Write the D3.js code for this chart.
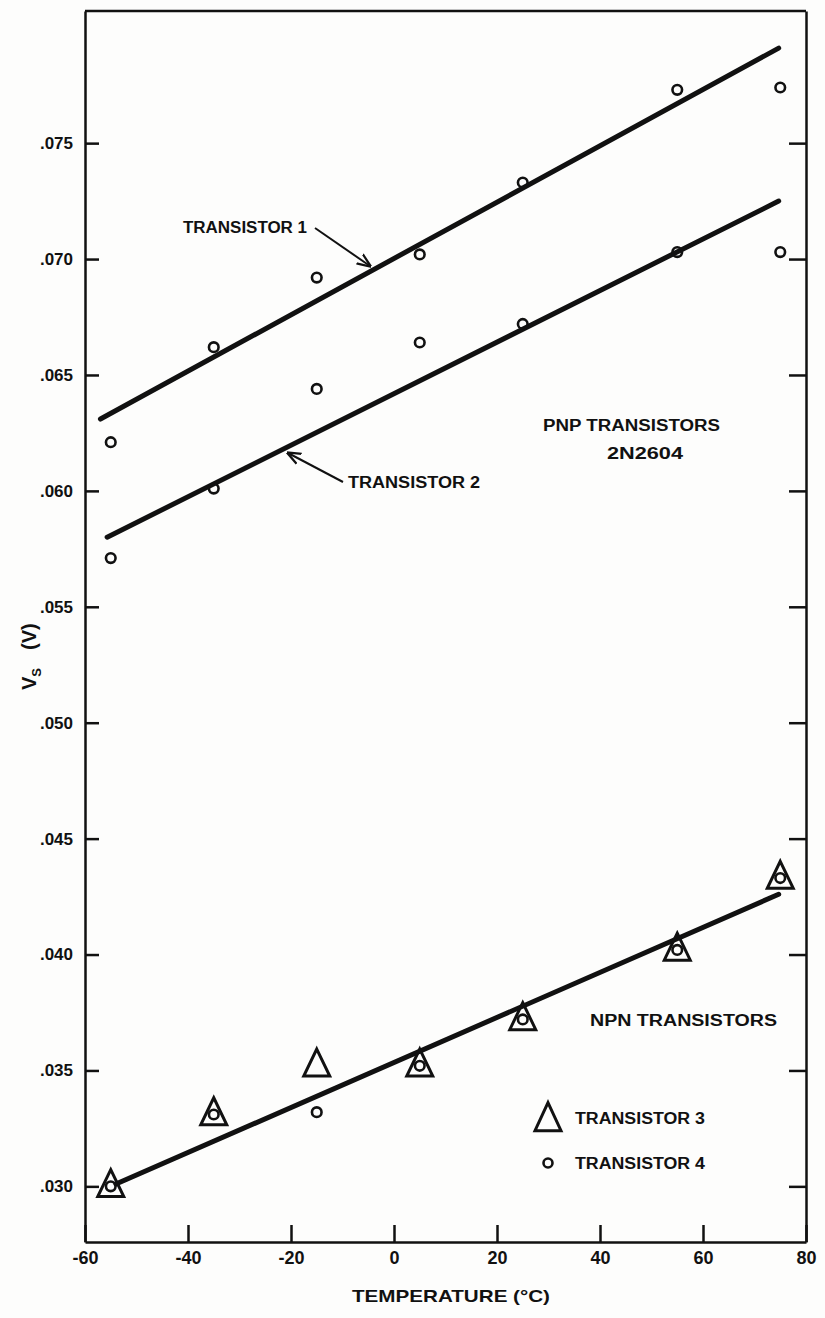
<!DOCTYPE html>
<html>
<head>
<meta charset="utf-8">
<script src="https://cdn.jsdelivr.net/npm/d3@7/dist/d3.min.js"></script>
<style>
	html, body { margin: 0; padding: 0; background: #fdfdfc; }
	svg { display: block; }
	text { font-family: "Liberation Sans", Arial, sans-serif; font-weight: bold; fill: #111; }
</style>
</head>
<body>
<div id="chart"></div>
<script>
	// temperatures where the transistors were measured (deg C)
	var temps = [-55, -35, -15, 5, 25, 55, 75];

	// PNP transistors (2N2604), Vs in volts
	var transistor1 = [0.0621, 0.0662, 0.0692, 0.0702, 0.0733, 0.0773, 0.0774];
	var transistor2 = [0.0571, 0.0601, 0.0644, 0.0664, 0.0672, 0.0703, 0.0703];

	// NPN transistors
	var transistor3 = [0.0300, 0.0331, 0.0352, 0.0352, 0.0372, 0.0402, 0.0433];
	var transistor4 = [0.0300, 0.0331, 0.0332, 0.0352, 0.0372, 0.0402, 0.0433];

	// fitted straight lines, [start, end]
	var fit1T = [-57, 74.7], fit1V = [0.0631, 0.0791];
	var fit2T = [-55.7, 74.7], fit2V = [0.0580, 0.0725];
	var fit3T = [-54, 74.7], fit3V = [0.0301, 0.0426];

	var xTicks = [-60, -40, -20, 0, 20, 40, 60, 80];
	var yTicks = [0.030, 0.035, 0.040, 0.045, 0.050, 0.055, 0.060, 0.065, 0.070, 0.075];

	var width = 825, height = 1318;

	var svg = d3.select("#chart")
		.append("svg")
		.attr("width", width)
		.attr("height", height);

	var x = d3.scaleLinear().domain([-60, 80]).range([85, 806]);
	var y = d3.scaleLinear().domain([0.0276, 0.0807]).range([1242, 11]);

	var ink = "#111";

	// frame top
	svg.append("line")
		.attr("x1", x(-60)).attr("x2", x(80))
		.attr("y1", y(0.0807)).attr("y2", y(0.0807))
		.attr("stroke", ink).attr("stroke-width", 2.5);

	// left axis
	var yAxis = svg.append("g")
		.attr("transform", "translate(" + x(-60) + ",0)")
		.call(d3.axisLeft(y)
			.tickValues(yTicks)
			.tickSizeInner(-14)
			.tickSizeOuter(0)
			.tickPadding(12)
			.tickFormat(function(d){ return d3.format(".3f")(d).replace(/^0/, ""); }));

	// right axis, ticks pointing inward, no labels
	var rAxis = svg.append("g")
		.attr("transform", "translate(" + x(80) + ",0)")
		.call(d3.axisLeft(y)
			.tickValues(yTicks)
			.tickSizeInner(17)
			.tickSizeOuter(0)
			.tickFormat(""));

	// bottom axis
	var xAxis = svg.append("g")
		.attr("transform", "translate(0," + y(0.0276) + ")")
		.call(d3.axisBottom(x)
			.tickValues(xTicks)
			.tickSizeInner(-17)
			.tickSizeOuter(0)
			.tickPadding(9)
			.tickFormat(function(d){ return String(d); }));

	[yAxis, rAxis, xAxis].forEach(function(g){
		g.select(".domain").attr("stroke", ink).attr("stroke-width", 2.5);
		g.selectAll(".tick line").attr("stroke", ink).attr("stroke-width", 2.5);
		g.selectAll(".tick text")
			.attr("fill", ink)
			.style("font-size", "17px")
			.style("font-family", "'Liberation Sans', Arial, sans-serif")
			.style("font-weight", "bold");
	});
	xAxis.selectAll(".tick text").style("font-size", "18px");

	// fitted lines
	var fits = [[fit1T, fit1V], [fit2T, fit2V], [fit3T, fit3V]];
	svg.selectAll("line.fit")
		.data(fits)
		.enter()
			.append("line")
			.attr("class", "fit")
			.attr("x1", function(d){ return x(d[0][0]); })
			.attr("y1", function(d){ return y(d[1][0]); })
			.attr("x2", function(d){ return x(d[0][1]); })
			.attr("y2", function(d){ return y(d[1][1]); })
			.attr("stroke", ink)
			.attr("stroke-width", 5)
			.attr("stroke-linecap", "round");

	// triangles (transistor 3)
	function tri(cx, cy, w, h) {
		var p = d3.path();
		p.moveTo(cx, cy - h * 0.62);
		p.lineTo(cx + w / 2, cy + h * 0.38);
		p.lineTo(cx - w / 2, cy + h * 0.38);
		p.closePath();
		return p.toString();
	}

	svg.selectAll("path.t3")
		.data(temps)
		.enter()
			.append("path")
			.attr("class", "t3")
			.attr("d", function(d, i){ return tri(x(d), y(transistor3[i]), 26, 27); })
			.attr("fill", "none")
			.attr("stroke", ink)
			.attr("stroke-width", 3)
			.attr("stroke-linejoin", "miter");

	// circles (transistors 1, 2, 4)
	var circleSets = [transistor1, transistor2, transistor4];
	circleSets.forEach(function(vals, k){
		svg.selectAll("circle.s" + k)
			.data(temps)
			.enter()
				.append("circle")
				.attr("class", "s" + k)
				.attr("cx", function(d){ return x(d); })
				.attr("cy", function(d, i){ return y(vals[i]); })
				.attr("r", 4.8)
				.attr("fill", "none")
				.attr("stroke", ink)
				.attr("stroke-width", 2.6);
	});

	// leader lines with small arrow heads
	svg.append("defs").append("marker")
		.attr("id", "arr")
		.attr("viewBox", "0 0 10 10")
		.attr("refX", 9).attr("refY", 5)
		.attr("markerWidth", 7).attr("markerHeight", 7)
		.attr("orient", "auto")
		.append("path")
			.attr("d", "M0,1L10,5L0,9")
			.attr("fill", "none")
			.attr("stroke", ink)
			.attr("stroke-width", 1.6);

	svg.append("line")
		.attr("x1", 315).attr("y1", 228).attr("x2", 370).attr("y2", 266)
		.attr("stroke", ink).attr("stroke-width", 2)
		.attr("marker-end", "url(#arr)");
	svg.append("line")
		.attr("x1", 343).attr("y1", 482).attr("x2", 288).attr("y2", 453)
		.attr("stroke", ink).attr("stroke-width", 2)
		.attr("marker-end", "url(#arr)");

	// labels
	var labels = [
		{t: "TRANSISTOR 1", x: 183, y: 233, w: 124},
		{t: "TRANSISTOR 2", x: 348, y: 488, w: 132},
		{t: "PNP TRANSISTORS", x: 543, y: 431, w: 177},
		{t: "2N2604", x: 607, y: 459, w: 76},
		{t: "NPN TRANSISTORS", x: 590, y: 1026, w: 187},
		{t: "TRANSISTOR 3", x: 575, y: 1124, w: 130},
		{t: "TRANSISTOR 4", x: 575, y: 1169, w: 130}
	];
	svg.selectAll("text.lab")
		.data(labels)
		.enter()
			.append("text")
			.attr("class", "lab")
			.attr("x", function(d){ return d.x; })
			.attr("y", function(d){ return d.y; })
			.attr("textLength", function(d){ return d.w; })
			.attr("lengthAdjust", "spacingAndGlyphs")
			.style("font-size", "16px")
			.text(function(d){ return d.t; });

	// legend symbols
	svg.append("path")
		.attr("d", tri(548, 1120, 26, 28))
		.attr("fill", "none").attr("stroke", ink).attr("stroke-width", 3);
	svg.append("circle")
		.attr("cx", 548).attr("cy", 1163).attr("r", 4.5)
		.attr("fill", "none").attr("stroke", ink).attr("stroke-width", 2.6);

	// axis titles
	svg.append("text")
		.attr("x", 352).attr("y", 1302)
		.attr("textLength", 198)
		.attr("lengthAdjust", "spacingAndGlyphs")
		.style("font-size", "17px")
		.text("TEMPERATURE (°C)");

	var yt = svg.append("text")
		.attr("transform", "translate(36,690) rotate(-90)")
		.style("font-size", "20px");
	yt.append("tspan").text("V");
	yt.append("tspan").attr("dy", 5).style("font-size", "13px").text("S");
	yt.append("tspan").attr("dy", -5).attr("dx", 18).text("(V)");
</script>
</body>
</html>
